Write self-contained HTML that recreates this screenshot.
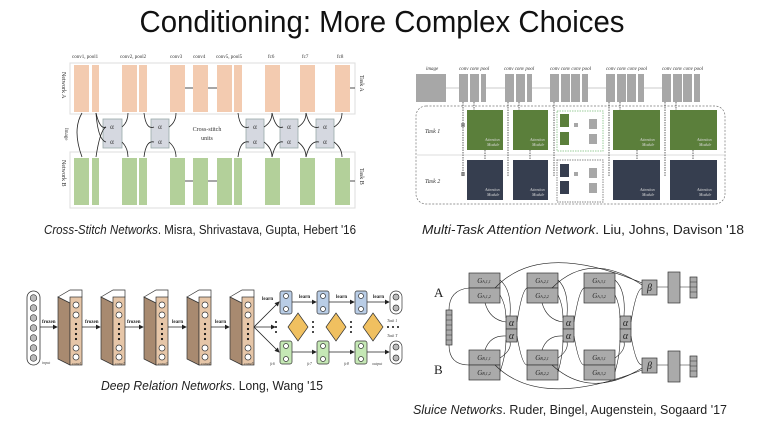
<!DOCTYPE html>
<html><head><meta charset="utf-8"><style>
html,body{margin:0;padding:0;background:#fff;}
svg{display:block;}
text{font-family:"Liberation Sans",sans-serif;}
.s, .s text{font-family:"Liberation Serif",serif;}
</style></head><body>
<svg width="764" height="424" viewBox="0 0 764 424" xmlns="http://www.w3.org/2000/svg">
<defs>
<marker id="ah" markerWidth="6" markerHeight="6" refX="5" refY="3" orient="auto"><path d="M0,0 L6,3 L0,6 z" fill="#222"/></marker>
</defs>
<text x="382" y="32" font-size="31" text-anchor="middle" textLength="485" lengthAdjust="spacingAndGlyphs" fill="#111">Conditioning: More Complex Choices</text>

<!-- Q1 -->
<g class="s" font-size="5" fill="#333">
<text x="72" y="58">conv1, pool1</text><text x="120" y="58">conv2, pool2</text><text x="170" y="58">conv3</text><text x="193" y="58">conv4</text><text x="216" y="58">conv5, pool5</text><text x="268" y="58">fc6</text><text x="302" y="58">fc7</text><text x="337" y="58">fc8</text>
</g>
<rect x="70" y="63" width="285" height="51" fill="none" stroke="#ddd"/>
<rect x="70" y="152" width="285" height="56" fill="none" stroke="#ddd"/>
<g fill="#f3cbb0">
<rect x="74" y="65" width="15" height="47"/><rect x="92" y="65" width="7" height="47"/><rect x="122" y="65" width="15" height="47"/><rect x="139" y="65" width="8" height="47"/><rect x="170" y="65" width="15" height="47"/><rect x="193" y="65" width="15" height="47"/><rect x="217" y="65" width="15" height="47"/><rect x="234" y="65" width="8" height="47"/><rect x="265" y="65" width="15" height="47"/><rect x="300" y="65" width="15" height="47"/><rect x="335" y="65" width="15" height="47"/>
</g>
<g fill="#b3d09a">
<rect x="74" y="158" width="15" height="47"/><rect x="92" y="158" width="7" height="47"/><rect x="122" y="158" width="15" height="47"/><rect x="139" y="158" width="8" height="47"/><rect x="170" y="158" width="15" height="47"/><rect x="193" y="158" width="15" height="47"/><rect x="217" y="158" width="15" height="47"/><rect x="234" y="158" width="8" height="47"/><rect x="265" y="158" width="15" height="47"/><rect x="300" y="158" width="15" height="47"/><rect x="335" y="158" width="15" height="47"/>
</g>
<g fill="#d5d8e0" stroke="#9aa" stroke-width="0.8">
<rect x="103" y="119" width="19" height="29"/><rect x="151" y="119" width="18" height="29"/><rect x="246" y="119" width="18" height="29"/><rect x="280" y="119" width="18" height="29"/><rect x="316" y="119" width="18" height="29"/>
</g>
<g class="s" font-size="7" fill="#333" text-anchor="middle">
<text x="112" y="129">α</text><text x="112" y="144">α</text><text x="160" y="129">α</text><text x="160" y="144">α</text><text x="255" y="129">α</text><text x="255" y="144">α</text><text x="289" y="129">α</text><text x="289" y="144">α</text><text x="325" y="129">α</text><text x="325" y="144">α</text>
<text x="207" y="131" font-size="6">Cross-stitch</text><text x="207" y="140" font-size="6">units</text>
</g>
<g fill="none" stroke="#222" stroke-width="0.8">
<path d="M82,113 Q72,130 82,157"/><path d="M96,113 Q100,130 106,127"/><path d="M96,113 Q98,140 106,142"/><path d="M122,127 Q128,122 128,113"/><path d="M122,142 Q128,148 128,157"/><path d="M96,157 Q100,130 106,127"/>
<path d="M144,113 Q146,130 154,127"/><path d="M144,157 Q146,140 154,142"/><path d="M169,127 Q176,122 176,113"/><path d="M169,142 Q176,148 176,157"/>
<path d="M238,113 Q240,130 249,127"/><path d="M238,157 Q240,140 249,142"/><path d="M264,127 Q272,122 272,113"/><path d="M264,142 Q272,148 272,157"/>
<path d="M272,113 Q276,130 283,127"/><path d="M272,157 Q276,140 283,142"/><path d="M298,127 Q306,122 306,113"/><path d="M298,142 Q306,148 306,157"/>
<path d="M306,113 Q310,130 319,127"/><path d="M306,157 Q310,140 319,142"/><path d="M334,127 Q342,122 342,113"/><path d="M334,142 Q342,148 342,157"/>
<path d="M185,88 H193"/><path d="M208,88 H217"/><path d="M185,181 H193"/><path d="M208,181 H217"/><path d="M350,88 H355"/><path d="M350,181 H355"/>
</g>
<g class="s" font-size="6" fill="#333">
<text transform="translate(62,72) rotate(90)">Network A</text><text transform="translate(62,160) rotate(90)">Network B</text>
<text transform="translate(65,128) rotate(90)" font-size="5">Image</text>
<text transform="translate(360,75) rotate(90)">Task A</text><text transform="translate(360,168) rotate(90)">Task B</text>
</g>
<text x="200" y="234" font-size="12.5" text-anchor="middle" fill="#222" textLength="312" lengthAdjust="spacingAndGlyphs"><tspan font-style="italic">Cross-Stitch Networks</tspan>. Misra, Shrivastava, Gupta, Hebert '16</text>

<!-- Q2 -->
<g class="s" font-size="5" font-style="italic" fill="#333">
<text x="426" y="70">image</text><text x="459" y="70">conv conv pool</text><text x="504" y="70">conv conv pool</text><text x="550" y="70">conv conv conv pool</text><text x="606" y="70">conv conv conv pool</text><text x="662" y="70">conv conv conv pool</text>
</g>
<g fill="#a7a7a7">
<rect x="416" y="74" width="30" height="28"/>
<rect x="459" y="74" width="9" height="28"/><rect x="470" y="74" width="9" height="28"/><rect x="481" y="74" width="5" height="28"/>
<rect x="505" y="74" width="9" height="28"/><rect x="516" y="74" width="9" height="28"/><rect x="527" y="74" width="5" height="28"/>
<rect x="550" y="74" width="9" height="28"/><rect x="561" y="74" width="9" height="28"/><rect x="571" y="74" width="9" height="28"/><rect x="582" y="74" width="6" height="28"/>
<rect x="606" y="74" width="9" height="28"/><rect x="617" y="74" width="9" height="28"/><rect x="627" y="74" width="9" height="28"/><rect x="638" y="74" width="6" height="28"/>
<rect x="662" y="74" width="9" height="28"/><rect x="673" y="74" width="9" height="28"/><rect x="683" y="74" width="9" height="28"/><rect x="694" y="74" width="6" height="28"/>
</g>
<g stroke="#bbb" stroke-width="0.8"><path d="M446,88 H459 M486,88 H505 M532,88 H550 M588,88 H606 M644,88 H662"/></g>
<rect x="416" y="106" width="309" height="98" rx="10" fill="none" stroke="#777" stroke-dasharray="2,1.5" stroke-width="0.7"/>
<line x1="417" y1="155" x2="724" y2="155" stroke="#ddd"/>
<g fill="#5b7f3b"><rect x="467" y="110" width="36" height="40"/><rect x="513" y="110" width="35" height="40"/><rect x="613" y="110" width="47" height="40"/><rect x="670" y="110" width="47" height="40"/><rect x="560" y="114" width="9" height="13"/><rect x="560" y="132" width="9" height="13"/></g>
<g fill="#363e4f"><rect x="467" y="160" width="36" height="40"/><rect x="513" y="160" width="35" height="40"/><rect x="613" y="160" width="47" height="40"/><rect x="670" y="160" width="47" height="40"/><rect x="560" y="164" width="9" height="13"/><rect x="560" y="181" width="9" height="13"/></g>
<rect x="557" y="111" width="46" height="40" fill="none" stroke="#9c9" stroke-dasharray="1.5,1"/>
<rect x="557" y="160" width="46" height="42" fill="none" stroke="#888" stroke-dasharray="1.5,1"/>
<g fill="#a7a7a7"><rect x="589" y="119" width="8" height="10"/><rect x="589" y="134" width="8" height="10"/><rect x="589" y="168" width="8" height="10"/><rect x="589" y="183" width="8" height="10"/><rect x="461" y="123" width="4" height="4"/><rect x="461" y="172" width="4" height="4"/><rect x="574" y="123" width="4" height="4"/><rect x="574" y="172" width="4" height="4"/></g>
<g stroke="#222" stroke-width="0.7" stroke-dasharray="1.5,1">
<path d="M463,102 V176 M474,102 V110 M508,102 V176 M519,102 V110 M554,102 V176 M609,102 V176 M620,102 V110 M665,102 V176 M676,102 V110"/>
<path d="M485,150 V160 M530,150 V160 M637,150 V160 M693,150 V160"/>
</g>
<g class="s" font-size="4" font-style="italic" fill="#ddd"><text x="485" y="141">Attention</text><text x="487" y="146">Module</text><text x="530" y="141">Attention</text><text x="532" y="146">Module</text><text x="640" y="141">Attention</text><text x="642" y="146">Module</text><text x="697" y="141">Attention</text><text x="699" y="146">Module</text>
<text x="485" y="191">Attention</text><text x="487" y="196">Module</text><text x="530" y="191">Attention</text><text x="532" y="196">Module</text><text x="640" y="191">Attention</text><text x="642" y="196">Module</text><text x="697" y="191">Attention</text><text x="699" y="196">Module</text></g>
<g class="s" font-size="6" font-style="italic" fill="#333"><text x="425" y="133">Task 1</text><text x="425" y="183">Task 2</text></g>
<text x="583" y="234" font-size="12.5" text-anchor="middle" fill="#222" textLength="322" lengthAdjust="spacingAndGlyphs"><tspan font-style="italic">Multi-Task Attention Network</tspan>. Liu, Johns, Davison '18</text>

<!-- Q3 -->
<rect x="27" y="291" width="13" height="74" rx="6.5" fill="#fff" stroke="#333" stroke-width="0.8"/>
<g fill="#bbb" stroke="#333" stroke-width="0.6"><circle cx="33.5" cy="298" r="3.3"/><circle cx="33.5" cy="308" r="3.3"/><circle cx="33.5" cy="318" r="3.3"/><circle cx="33.5" cy="328" r="3.3"/><circle cx="33.5" cy="338" r="3.3"/><circle cx="33.5" cy="348" r="3.3"/><circle cx="33.5" cy="358" r="3.3"/></g>
<g id="blk" stroke="#333" stroke-width="0.7">
<path d="M58,297 L70,303 V365 L58,359 Z" fill="#a88a70"/>
<path d="M58,297 L70,290 L82,290 L82,297 L70,303 Z" fill="#fff"/>
<rect x="70" y="297" width="12" height="68" fill="#e6c6a8"/>
<g fill="#fff"><circle cx="76" cy="305" r="3"/><circle cx="76" cy="315" r="3"/><circle cx="76" cy="348" r="3"/><circle cx="76" cy="357" r="3"/></g>
<g fill="#111" stroke="none"><circle cx="76" cy="324" r="1.1"/><circle cx="76" cy="329" r="1.1"/><circle cx="76" cy="334" r="1.1"/><circle cx="76" cy="339" r="1.1"/></g>
</g>
<use href="#blk" x="43"/><use href="#blk" x="86"/><use href="#blk" x="129"/><use href="#blk" x="172"/>
<g stroke="#222" stroke-width="0.8" fill="none" marker-end="url(#ah)">
<path d="M40,327 H57"/><path d="M82,327 H100"/><path d="M125,327 H143"/><path d="M168,327 H186"/><path d="M211,327 H229"/>
<path d="M254,327 L279,302"/><path d="M254,327 L279,352"/><path d="M254,327 H275"/>
<path d="M292,302 H316"/><path d="M329,302 H354"/><path d="M367,302 H389"/><path d="M292,352 H316"/><path d="M329,352 H354"/><path d="M367,352 H389"/>
</g>
<g class="s" font-size="5" font-weight="bold" fill="#222"><text x="42" y="323">frozen</text><text x="85" y="323">frozen</text><text x="127" y="323">frozen</text><text x="172" y="323">learn</text><text x="215" y="323">learn</text><text x="262" y="300">learn</text><text x="299" y="298">learn</text><text x="336" y="298">learn</text><text x="373" y="298">learn</text></g>
<g stroke="#333" stroke-width="0.7"><rect x="280" y="291" width="12" height="23" rx="2" fill="#b9cde6"/><rect x="317" y="291" width="12" height="23" rx="2" fill="#b9cde6"/><rect x="355" y="291" width="12" height="23" rx="2" fill="#b9cde6"/>
<rect x="280" y="341" width="12" height="23" rx="2" fill="#c5e8b5"/><rect x="317" y="341" width="12" height="23" rx="2" fill="#c5e8b5"/><rect x="355" y="341" width="12" height="23" rx="2" fill="#c5e8b5"/>
<path d="M298,313 L308,327 L298,341 L288,327 Z" fill="#f0c060"/>
<path d="M336,313 L346,327 L336,341 L326,327 Z" fill="#f0c060"/><path d="M373,313 L383,327 L373,341 L363,327 Z" fill="#f0c060"/>
<rect x="390" y="291" width="12" height="23" rx="6" fill="#fff"/><rect x="390" y="341" width="12" height="23" rx="6" fill="#fff"/>
<g fill="#fff"><circle cx="286" cy="296" r="2.5"/><circle cx="286" cy="309" r="2.5"/><circle cx="323" cy="296" r="2.5"/><circle cx="323" cy="309" r="2.5"/><circle cx="361" cy="296" r="2.5"/><circle cx="361" cy="309" r="2.5"/><circle cx="286" cy="346" r="2.5"/><circle cx="286" cy="359" r="2.5"/><circle cx="323" cy="346" r="2.5"/><circle cx="323" cy="359" r="2.5"/><circle cx="361" cy="346" r="2.5"/><circle cx="361" cy="359" r="2.5"/></g>
<g fill="#bbb"><circle cx="396" cy="297" r="3"/><circle cx="396" cy="308" r="3"/><circle cx="396" cy="347" r="3"/><circle cx="396" cy="358" r="3"/></g>
</g>
<g fill="#111"><circle cx="276" cy="322" r="1"/><circle cx="276" cy="327" r="1"/><circle cx="276" cy="332" r="1"/><circle cx="313" cy="322" r="1"/><circle cx="313" cy="327" r="1"/><circle cx="313" cy="332" r="1"/><circle cx="351" cy="322" r="1"/><circle cx="351" cy="327" r="1"/><circle cx="351" cy="332" r="1"/><circle cx="388" cy="327" r="1"/><circle cx="393" cy="327" r="1"/><circle cx="398" cy="327" r="1"/></g>
<g class="s" font-size="4" font-style="italic" fill="#444"><text x="42" y="364">input</text><text x="72" y="365">conv1</text><text x="115" y="365">conv2</text><text x="158" y="365">conv3</text><text x="201" y="365">conv4</text><text x="244" y="365">conv5</text><text x="270" y="365">fc6</text><text x="307" y="365">fc7</text><text x="344" y="365">fc8</text><text x="372" y="365">output</text><text x="387" y="322">Task 1</text><text x="387" y="337">Task T</text></g>
<text x="212" y="390" font-size="12.5" text-anchor="middle" fill="#222" textLength="222" lengthAdjust="spacingAndGlyphs"><tspan font-style="italic">Deep Relation Networks</tspan>. Long, Wang '15</text>

<!-- Q4 -->
<g class="s" font-size="13" fill="#222"><text x="434" y="297">A</text><text x="434" y="374">B</text></g>
<g fill="#aaa" stroke="#333" stroke-width="0.7">
<rect x="446" y="310" width="6" height="35"/>
<rect x="469" y="273" width="31" height="15"/><rect x="469" y="288" width="31" height="15"/>
<rect x="527" y="273" width="31" height="15"/><rect x="527" y="288" width="31" height="15"/>
<rect x="584" y="273" width="31" height="15"/><rect x="584" y="288" width="31" height="15"/>
<rect x="469" y="350" width="31" height="15"/><rect x="469" y="365" width="31" height="15"/>
<rect x="527" y="350" width="31" height="15"/><rect x="527" y="365" width="31" height="15"/>
<rect x="584" y="350" width="31" height="15"/><rect x="584" y="365" width="31" height="15"/>
<rect x="506" y="316" width="11" height="13"/><rect x="506" y="329" width="11" height="13"/>
<rect x="563" y="316" width="11" height="13"/><rect x="563" y="329" width="11" height="13"/>
<rect x="620" y="316" width="11" height="13"/><rect x="620" y="329" width="11" height="13"/>
<rect x="642" y="280" width="15" height="15"/><rect x="642" y="358" width="15" height="15"/>
<rect x="668" y="272" width="12" height="31"/><rect x="668" y="351" width="12" height="31"/>
<rect x="690" y="277" width="7" height="21"/><rect x="690" y="356" width="7" height="21"/>
</g>
<g stroke="#333" stroke-width="0.5"><path d="M446,315 H452 M446,320 H452 M446,325 H452 M446,330 H452 M446,335 H452 M446,340 H452 M690,282 H697 M690,287 H697 M690,292 H697 M690,361 H697 M690,366 H697 M690,371 H697"/></g>
<g class="s" font-size="7" font-style="italic" fill="#222" text-anchor="middle">
<text x="484" y="283">G<tspan font-size="4">A,1,1</tspan></text><text x="484" y="298">G<tspan font-size="4">A,1,2</tspan></text>
<text x="542" y="283">G<tspan font-size="4">A,2,1</tspan></text><text x="542" y="298">G<tspan font-size="4">A,2,2</tspan></text>
<text x="599" y="283">G<tspan font-size="4">A,3,1</tspan></text><text x="599" y="298">G<tspan font-size="4">A,3,2</tspan></text>
<text x="484" y="360">G<tspan font-size="4">B,1,1</tspan></text><text x="484" y="375">G<tspan font-size="4">B,1,2</tspan></text>
<text x="542" y="360">G<tspan font-size="4">B,2,1</tspan></text><text x="542" y="375">G<tspan font-size="4">B,2,2</tspan></text>
<text x="599" y="360">G<tspan font-size="4">B,3,1</tspan></text><text x="599" y="375">G<tspan font-size="4">B,3,2</tspan></text>
<g font-size="10"><text x="511.5" y="326">α</text><text x="511.5" y="339">α</text><text x="568.5" y="326">α</text><text x="568.5" y="339">α</text><text x="625.5" y="326">α</text><text x="625.5" y="339">α</text><text x="649.5" y="291">β</text><text x="649.5" y="369">β</text></g>
</g>
<g fill="none" stroke="#222" stroke-width="0.6">
<path d="M449,310 Q449,290 469,288"/><path d="M449,345 Q449,365 469,365"/>
<path d="M500,280 Q512,290 510,316"/><path d="M500,295 Q506,305 506,318"/><path d="M500,358 Q512,350 510,342"/><path d="M500,372 Q506,355 506,340"/>
<path d="M485,303 Q490,320 506,322"/><path d="M485,350 Q490,335 506,336"/>
<path d="M517,322 Q522,290 527,288"/><path d="M517,336 Q522,365 527,365"/>
<path d="M558,280 Q569,290 567,316"/><path d="M558,295 Q563,305 563,318"/><path d="M558,358 Q569,350 567,342"/><path d="M558,372 Q563,355 563,340"/>
<path d="M542,303 Q547,320 563,322"/><path d="M542,350 Q547,335 563,336"/>
<path d="M574,322 Q579,290 584,288"/><path d="M574,336 Q579,365 584,365"/>
<path d="M615,280 Q626,290 624,316"/><path d="M615,295 Q620,305 620,318"/><path d="M615,358 Q626,350 624,342"/><path d="M615,372 Q620,355 620,340"/>
<path d="M631,322 Q636,290 642,288"/><path d="M631,336 Q636,365 642,365"/>
<path d="M495,288 Q540,240 642,283"/><path d="M552,288 Q590,250 642,285"/><path d="M495,365 Q540,410 642,370"/><path d="M552,365 Q590,400 642,368"/>
<path d="M657,287 H668 M680,287 H690 M657,365 H668 M680,365 H690"/>
</g>
<text x="570" y="414" font-size="12.5" text-anchor="middle" fill="#222" textLength="314" lengthAdjust="spacingAndGlyphs"><tspan font-style="italic">Sluice Networks</tspan>. Ruder, Bingel, Augenstein, Sogaard '17</text>
</svg>
</body></html>
